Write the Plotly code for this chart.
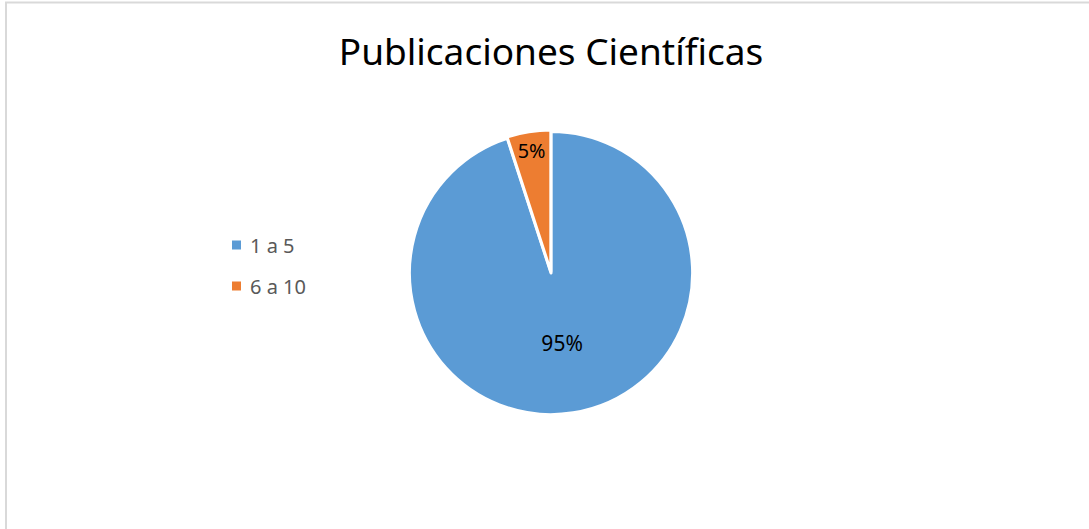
import plotly.graph_objects as go

# data
labels = ['1 a 5', '6 a 10']
values = [95, 5]
colors = ['#5B9BD5', '#ED7D31']
title = 'Publicaciones Científicas'

W, H = 1089, 529
FONT = 'Noto Sans, Open Sans, sans-serif'

fig = go.Figure()

fig.add_trace(go.Pie(
    labels=labels,
    values=values,
    marker=dict(colors=colors, line=dict(color='white', width=3)),
    sort=False,
    direction='clockwise',
    rotation=0,
    pull=[0, 0.01],
    texttemplate='%{percent:.0%}',
    textposition='inside',
    insidetextorientation='horizontal',
    textfont=dict(family=FONT, size=21, color='black'),
    domain=dict(x=[0.3747, 0.6373], y=[0.2136, 0.7542]),
    showlegend=False,
    hoverinfo='label+percent',
))

# manual legend (Excel style, wide spacing)
legend_y = [245, 286]
shapes = []
annotations = []
for lab, col, yy in zip(labels, colors, legend_y):
    shapes.append(dict(type='rect', xref='paper', yref='paper',
                       x0=232 / W, x1=241 / W,
                       y0=1 - (yy + 4.5) / H, y1=1 - (yy - 4.5) / H,
                       fillcolor=col, line=dict(width=0)))
    annotations.append(dict(text=lab, xref='paper', yref='paper',
                            x=248 / W, y=1 - yy / H, xanchor='left', yanchor='middle',
                            showarrow=False,
                            font=dict(family=FONT, size=20, color='#595959')))

# chart area border
shapes.append(dict(type='rect', xref='paper', yref='paper',
                   x0=6 / W, x1=1.01, y0=-0.01, y1=1 - 2.5 / H,
                   line=dict(color='#d9d9d9', width=2), fillcolor='rgba(0,0,0,0)'))

fig.update_layout(
    width=W, height=H,
    margin=dict(l=0, r=0, t=0, b=0),
    paper_bgcolor='white',
    plot_bgcolor='white',
    title=dict(text=title, x=551 / W, xanchor='center', y=1 - 52 / H, yanchor='middle',
               font=dict(family=FONT, size=37, color='black')),
    shapes=shapes,
    annotations=annotations,
)

# drop the page's default body margin so the figure sits at the window corner
fig.write_html("out.html", config={'displayModeBar': False},
               post_script="document.body.style.margin='0';")
